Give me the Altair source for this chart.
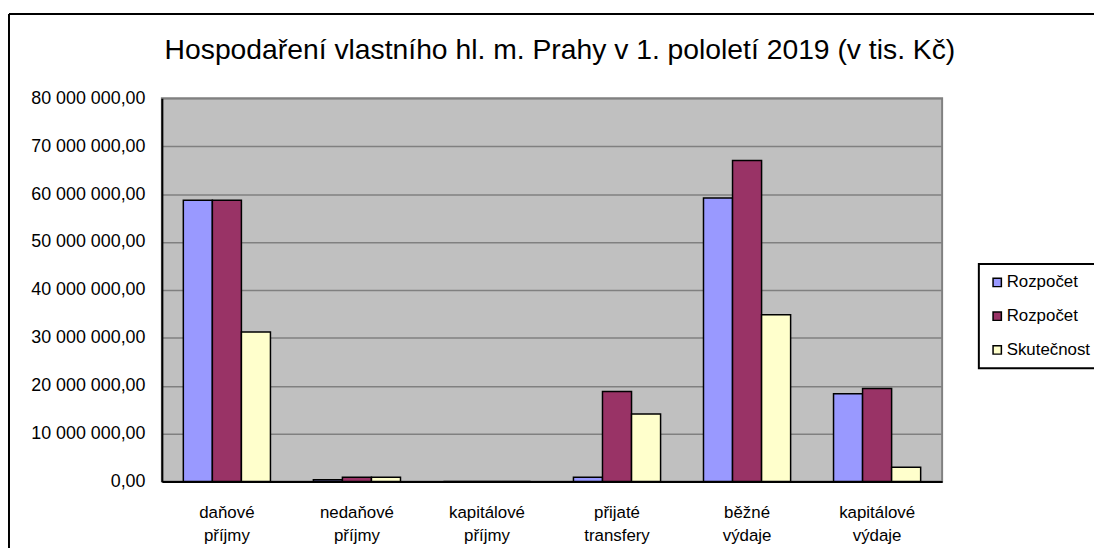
import altair as alt
import pandas as pd

categories = ["daňové příjmy", "nedaňové příjmy", "kapitálové příjmy",
              "přijaté transfery", "běžné výdaje", "kapitálové výdaje"]
series_ids = ["r1", "r2", "sk"]
series_labels = ["Rozpočet", "Rozpočet", "Skutečnost"]
series_colors = ["#9999FF", "#993366", "#FFFFCC"]
rozpocet_1 = [58700000, 350000, 0, 900000, 59200000, 18300000]
rozpocet_2 = [58700000, 900000, 0, 18800000, 67000000, 19400000]
skutecnost = [31200000, 900000, 0, 14100000, 34800000, 3000000]
y_ticks = [0, 10000000, 20000000, 30000000, 40000000, 50000000, 60000000, 70000000, 80000000]
title_text = "Hospodaření vlastního hl. m. Prahy v 1. pololetí 2019 (v tis. Kč)"

rows = []
for sid, vals in zip(series_ids, [rozpocet_1, rozpocet_2, skutecnost]):
    for c, v in zip(categories, vals):
        rows.append({"kategorie": c, "serie": sid, "hodnota": v})
df = pd.DataFrame(rows)

FONT = "Liberation Sans"
label_map = "{" + ",".join(f"'{i}':'{l}'" for i, l in zip(series_ids, series_labels)) + "}"

bars = alt.Chart(df).mark_bar(stroke="black", strokeWidth=1.5).encode(
    x=alt.X("kategorie:N", sort=categories,
            scale=alt.Scale(paddingInner=0.33, paddingOuter=0.165),
            axis=alt.Axis(title=None, labelAngle=0, ticks=False, domainColor="black",
                          domainWidth=2, labelFontSize=17, labelFont=FONT, labelColor="black",
                          labelPadding=23, labelLineHeight=23,
                          labelExpr="split(datum.label, ' ')")),
    xOffset=alt.XOffset("serie:N", sort=series_ids,
                        scale=alt.Scale(paddingInner=0, paddingOuter=0)),
    y=alt.Y("hodnota:Q", scale=alt.Scale(domain=[0, 80000000], nice=False),
            axis=alt.Axis(title=None, values=y_ticks, format=",.2f", ticks=False,
                          domainColor="black", domainWidth=2, gridColor="#808080",
                          gridWidth=1.5, labelFontSize=18, labelFont=FONT,
                          labelColor="black", labelPadding=17)),
    color=alt.Color("serie:N", sort=series_ids,
                    scale=alt.Scale(domain=series_ids, range=series_colors),
                    legend=alt.Legend(title=None, orient="none", legendX=823, legendY=167,
                                      symbolType="square", symbolSize=70,
                                      symbolStrokeColor="black", symbolStrokeWidth=1.5,
                                      labelFontSize=17, labelFont=FONT, labelColor="black",
                                      labelExpr=f"{label_map}[datum.value]",
                                      rowPadding=16, padding=10, labelOffset=1)),
)

frame = pd.DataFrame({"a": [0]})
top_line = alt.Chart(frame).mark_rule(color="black", strokeWidth=2).encode(
    x=alt.value(-154), x2=alt.value(940), y=alt.value(-85))
left_line = alt.Chart(frame).mark_rule(color="black", strokeWidth=2).encode(
    x=alt.value(-154), y=alt.value(-85), y2=alt.value(470))

chart = alt.layer(bars, top_line, left_line).properties(
    width=786, height=386,
    autosize=alt.AutoSizeParams(type="none"),
    padding={"left": 155, "top": 89, "right": 153, "bottom": 65},
    title=alt.TitleParams(title_text, fontSize=28.5, font=FONT, fontWeight="normal",
                          color="black", anchor="middle", frame="group", offset=0,
                          dy=52, dx=8),
).configure(
    locale={"number": {"decimal": ",", "thousands": " ", "grouping": [3],
                       "currency": ["", ""]}}
).configure_view(
    fill="#C0C0C0", stroke="#808080", strokeWidth=2
).configure_legend(
    strokeColor="black", strokeWidth=2, fillColor="white"
)

chart.save("out.html", embed_options={"renderer": "svg", "actions": False})
